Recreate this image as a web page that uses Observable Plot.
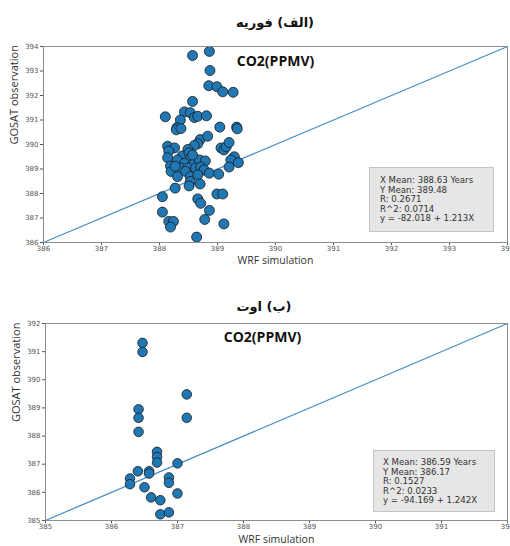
<!DOCTYPE html>
<html>
<head>
<meta charset="utf-8">
<script src="https://cdn.jsdelivr.net/npm/d3@7"></script>
<script src="https://cdn.jsdelivr.net/npm/@observablehq/plot@0.6"></script>
<style>
  html, body { margin: 0; padding: 0; background: #fff; }
  #wrap { position: relative; width: 510px; height: 546px; overflow: hidden; background: #fff; }
  .title { position: absolute; width: 510px; text-align: center; font-family: "DejaVu Sans", sans-serif; font-weight: bold; font-size: 13px; color: #111; direction: rtl; line-height: 18px; }
  .panel { position: absolute; left: 0; }
  .stats { position: absolute; background: #e6e6e6; border: 1px solid #c4c4c4; box-sizing: border-box; font-family: "DejaVu Sans", sans-serif; font-size: 8.6px; line-height: 9.6px; color: #333; white-space: nowrap; }
</style>
</head>
<body>
<div id="wrap"></div>
<script>
// ---------- Data ----------
const titles = ["(الف) فوریه", "(ب) اوت"];
const innerTitle = "CO2(PPMV)";
const xLabel = "WRF simulation";
const yLabel = "GOSAT observation";

// Panel A (February)
const febDomain = [386, 394];
const febTicks = [386, 387, 388, 389, 390, 391, 392, 393, 394];
const febX = [388.57, 388.86, 388.87, 388.85, 388.99, 389.09, 389.27, 388.57, 388.10, 388.43,
              388.53, 388.60, 388.66, 388.81, 388.36, 388.30, 388.29, 388.37, 389.04, 389.33,
              389.34, 388.70, 388.83, 388.66, 388.60, 388.14, 388.26, 389.06, 389.11, 389.15,
              389.20, 388.16, 388.14, 388.39, 388.49, 388.51, 388.53, 388.31, 388.19, 388.43,
              388.60, 388.69, 388.79, 389.29, 389.23, 389.36, 388.20, 388.37, 388.49, 388.62,
              388.71, 388.77, 388.45, 388.31, 388.53, 388.66, 388.86, 389.02, 389.20, 388.53,
              388.51, 388.70, 388.27, 388.05, 388.66, 388.71, 388.99, 389.09, 388.05, 388.86,
              388.78, 388.16, 388.24, 388.19, 389.11, 388.64, 388.57, 388.27];
const febY = [393.63, 393.80, 393.02, 392.40, 392.36, 392.15, 392.13, 391.76, 391.13, 391.33,
              391.30, 391.10, 391.15, 391.17, 391.00, 390.69, 390.60, 390.65, 390.71, 390.71,
              390.64, 390.20, 390.34, 390.03, 389.96, 389.93, 389.86, 389.86, 389.78, 389.91,
              390.08, 389.73, 389.46, 389.53, 389.80, 389.66, 389.46, 389.37, 389.12, 389.23,
              389.23, 389.37, 389.33, 389.50, 389.37, 389.26, 388.90, 389.04, 389.04, 389.04,
              389.08, 388.97, 388.90, 388.69, 388.69, 388.76, 388.83, 388.79, 389.08, 388.49,
              388.31, 388.39, 388.22, 387.87, 387.78, 387.60, 387.98, 387.98, 387.24, 387.31,
              386.94, 386.86, 386.86, 386.63, 386.76, 386.22, 389.57, 389.11];
const febStats = ["X Mean: 388.63 Years", "Y Mean: 389.48", "R: 0.2671", "R^2: 0.0714", "y = -82.018 + 1.213X"];

// Panel B (August)
const augDomain = [385, 392];
const augTicks = [385, 386, 387, 388, 389, 390, 391, 392];
const augX = [386.47, 386.47, 387.14, 386.41, 386.41, 386.41, 387.14, 386.69, 386.69, 386.69,
              387.00, 386.40, 386.57, 386.57, 386.28, 386.28, 386.87, 386.87, 386.50, 387.00,
              386.60, 386.74, 386.74, 386.87];
const augY = [391.31, 390.99, 389.48, 388.95, 388.65, 388.15, 388.65, 387.44, 387.26, 387.06,
              387.03, 386.75, 386.75, 386.67, 386.49, 386.29, 386.53, 386.34, 386.18, 385.96,
              385.82, 385.72, 385.22, 385.29];
const augStats = ["X Mean: 386.59 Years", "Y Mean: 386.17", "R: 0.1527", "R^2: 0.0233", "y = -94.169 + 1.242X"];

// ---------- Drawing ----------
const wrap = document.getElementById("wrap");

function addTitle(text, top, left) {
  const d = document.createElement("div");
  d.className = "title";
  d.style.top = top + "px";
  d.style.left = left + "px";
  d.textContent = text;
  wrap.appendChild(d);
}

function panel({xs, ys, domain, ticks, top, height, marginTop, marginBottom, marginLeft, marginRight, co2dx, co2dy, labelDy, r}) {
  const data = xs.map((x, i) => ({x, y: ys[i]}));
  const ident = domain.map(v => ({v}));
  const chart = Plot.plot({
    width: 510,
    height, marginTop, marginBottom, marginLeft, marginRight,
    style: {background: "transparent", color: "#555", fontFamily: "DejaVu Sans, sans-serif"},
    x: {domain, label: null},
    y: {domain, label: null},
    marks: [
      Plot.axisX({ticks, tickSize: 3, tickPadding: 1, fontSize: 7, label: null, tickFormat: d3.format("d")}),
      Plot.axisY({ticks, tickSize: 3, tickPadding: 2, fontSize: 7, label: null, tickFormat: d3.format("d")}),
      Plot.line(ident, {x: "v", y: "v", stroke: "#4a8fc7", strokeWidth: 1.3}),
      Plot.dot(data, {x: "x", y: "y", r, fill: "#1f77b4", stroke: "#1b1b1b", strokeWidth: 0.8}),
      Plot.frame({stroke: "#8c8c8c", strokeWidth: 1}),
      Plot.text([innerTitle], {frameAnchor: "top", dx: co2dx, dy: co2dy, fontSize: 14, fontWeight: "bold", fill: "#111", fontFamily: "Open Sans, sans-serif"}),
      Plot.text([xLabel], {frameAnchor: "bottom", dy: labelDy, fontSize: 10.5, fill: "#333", fontFamily: "Open Sans, sans-serif"}),
      Plot.text([yLabel], {frameAnchor: "left", dx: -29, rotate: -90, fontSize: 11, fill: "#333", fontFamily: "Open Sans, sans-serif"})
    ]
  });
  const holder = document.createElement("div");
  holder.className = "panel";
  holder.style.top = top + "px";
  holder.appendChild(chart);
  wrap.appendChild(holder);
}

function addStats(lines, left, top, width, height, padL, padT) {
  const d = document.createElement("div");
  d.className = "stats";
  Object.assign(d.style, {left: left + "px", top: top + "px", width: width + "px", height: height + "px", paddingLeft: padL + "px", paddingTop: padT + "px"});
  d.innerHTML = lines.map(l => `<div>${l}</div>`).join("");
  wrap.appendChild(d);
}

addTitle(titles[0], 14, 20);
panel({xs: febX, ys: febY, domain: febDomain, ticks: febTicks, top: 36, height: 240,
       marginTop: 10, marginBottom: 34, marginLeft: 43, marginRight: 3, co2dx: 0, co2dy: 10, labelDy: 21, r: 5});
addStats(febStats, 369, 167, 125, 65, 10, 8);

addTitle(titles[1], 298, 9);
panel({xs: augX, ys: augY, domain: augDomain, ticks: augTicks, top: 313, height: 233,
       marginTop: 10, marginBottom: 26, marginLeft: 45, marginRight: 3, co2dx: -14, co2dy: 9, labelDy: 22, r: 4.8});
addStats(augStats, 373, 450, 122, 62, 9, 7);
</script>
</body>
</html>
